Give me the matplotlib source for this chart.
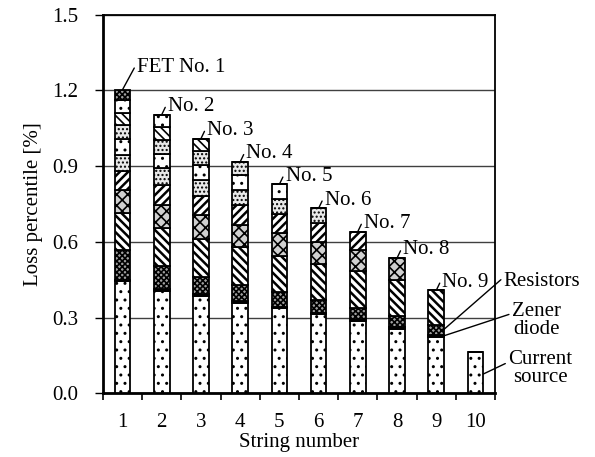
import matplotlib
matplotlib.use("Agg")
import matplotlib.pyplot as plt
import numpy as np

plt.rcParams['font.family'] = ['Liberation Serif', 'DejaVu Serif']
plt.rcParams['hatch.linewidth'] = 1.2

# data
strings = [1, 2, 3, 4, 5, 6, 7, 8, 9, 10]
current_source = [0.445, 0.406, 0.386, 0.359, 0.337, 0.313, 0.287, 0.257, 0.224, 0.164]
zener_diode = [0.006, 0.006, 0.006, 0.006, 0.006, 0.006, 0.006, 0.006, 0.006, 0.0]
resistors = [0.118, 0.091, 0.071, 0.065, 0.057, 0.052, 0.045, 0.045, 0.040, 0.0]
# FET losses, FET No. k only present in strings 1..k
fet9 = [0.145, 0.151, 0.148, 0.149, 0.146, 0.142, 0.145, 0.142, 0.138]
fet8 = [0.092, 0.092, 0.096, 0.088, 0.088, 0.088, 0.085, 0.086]
fet7 = [0.076, 0.079, 0.075, 0.079, 0.075, 0.075, 0.073]
fet6 = [0.062, 0.066, 0.063, 0.059, 0.061, 0.057]
fet5 = [0.062, 0.059, 0.059, 0.060, 0.058]
fet4 = [0.056, 0.055, 0.055, 0.052]
fet3 = [0.050, 0.050, 0.050]
fet2 = [0.049, 0.049]
fet1 = [0.042]
fet_labels = ['FET No. 1', 'No. 2', 'No. 3', 'No. 4', 'No. 5',
              'No. 6', 'No. 7', 'No. 8', 'No. 9']

def pad(vals):
    return vals + [0.0] * (len(strings) - len(vals))

# bottom to top stacking order: values, face colour, hatch, hatch line width
layers = [
    (current_source, 'white', '..', 1.0),
    (zener_diode, 'black', None, 1.0),
    (resistors, '#a0a0a0', 'xxxxxx', 1.2),
    (pad(fet9), 'white', '\\\\\\\\', 1.8),
    (pad(fet8), '#d0d0d0', 'xxx', 1.2),
    (pad(fet7), 'white', '////', 1.8),
    (pad(fet6), '#e8e8e8', '....', 1.0),
    (pad(fet5), 'white', '..', 1.0),
    (pad(fet4), '#e8e8e8', '....', 1.0),
    (pad(fet3), 'white', '\\\\\\\\', 1.2),
    (pad(fet2), 'white', '..', 1.0),
    (pad(fet1), '#a0a0a0', 'xxxxxx', 1.2),
]

fig = plt.figure(figsize=(5.95, 4.57), dpi=100)
ax = fig.add_axes([0.173, 0.139, 0.659, 0.829])

x = np.array(strings)
bottom = np.zeros(len(strings))
for vals, fc, hatch, hlw in layers:
    v = np.array(vals)
    with plt.rc_context({'hatch.linewidth': hlw}):
        bars = ax.bar(x, v, width=0.4, bottom=bottom, color=fc, edgecolor='black',
                      linewidth=1.3, hatch=hatch, zorder=3)
    for b in bars:
        if hasattr(b, 'set_hatch_linewidth'):
            b.set_hatch_linewidth(hlw)
    bottom = bottom + v

ax.set_xlim(0.5, 10.5)
ax.set_ylim(0, 1.5)
ax.set_yticks([0.0, 0.3, 0.6, 0.9, 1.2, 1.5])
ax.set_yticklabels(['0.0', '0.3', '0.6', '0.9', '1.2', '1.5'])
ax.set_xticks(x)
ax.set_xticks(np.arange(0.5, 11, 1), minor=True)
ax.tick_params(axis='x', which='major', length=0, labelsize=15, pad=14)
ax.tick_params(axis='x', which='minor', length=5, width=1.2, direction='out')
ax.tick_params(axis='y', length=6, width=1.0, direction='out', labelsize=15, pad=12)
ax.yaxis.grid(True, color='#404040', linewidth=1.0, zorder=0)
for s in ax.spines.values():
    s.set_linewidth(1.3)
ax.spines['bottom'].set_linewidth(2.0)
ax.spines['left'].set_linewidth(2.0)

ax.set_xlabel('String number', fontsize=15, labelpad=1)
ax.set_ylabel('Loss percentile [%]', fontsize=15, labelpad=6)

# FET labels just above each bar top
tops = bottom
for i, lab in enumerate(fet_labels):
    if i == 0:
        dx, dy = 0.37, 0.087
    else:
        dx, dy = 0.16, 0.033
    ax.annotate(lab, xy=(x[i], tops[i]), xytext=(x[i] + dx, tops[i] + dy),
                fontsize=15, ha='left', va='center',
                arrowprops=dict(arrowstyle='-', color='black', lw=1.0,
                                shrinkA=0, shrinkB=0, relpos=(0, 0.75)))

# component labels on the right
res_y = current_source[8] + zener_diode[8] + resistors[8] * 0.5
zen_y = current_source[8] + zener_diode[8] * 0.5
ax.annotate('Resistors', xy=(9.17, res_y), xytext=(10.72, 0.445),
            fontsize=15, ha='left', va='center', annotation_clip=False,
            arrowprops=dict(arrowstyle='-', color='black', lw=1.0,
                            shrinkA=0, shrinkB=0, relpos=(0, 0.7)))
ax.annotate('Zener\ndiode', xy=(9.17, zen_y), xytext=(11.55, 0.29),
            fontsize=15, ha='center', va='center', annotation_clip=False,
            linespacing=0.95,
            arrowprops=dict(arrowstyle='-', color='black', lw=1.0,
                            shrinkA=0, shrinkB=0, relpos=(0.0, 0.68)))
ax.annotate('Current\nsource', xy=(10.2, 0.077), xytext=(11.65, 0.10),
            fontsize=15, ha='center', va='center', annotation_clip=False,
            linespacing=0.95,
            arrowprops=dict(arrowstyle='-', color='black', lw=1.0,
                            shrinkA=0, shrinkB=0, relpos=(0.0, 0.66)))

fig.savefig('out.png', dpi=100)
